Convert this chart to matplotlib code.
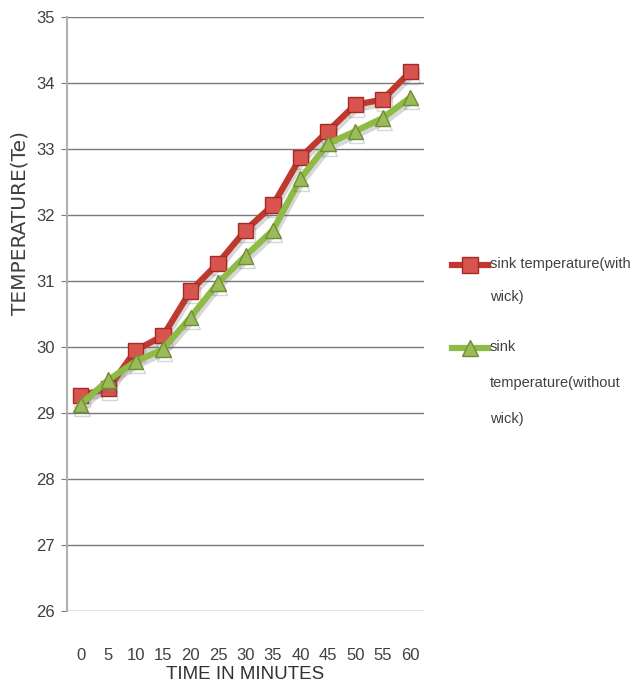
import matplotlib
matplotlib.use("Agg")
import matplotlib.pyplot as plt
import matplotlib.patheffects as pe
from matplotlib.lines import Line2D
import numpy as np

# Sink temperature readings over time
time_min = [0, 5, 10, 15, 20, 25, 30, 35, 40, 45, 50, 55, 60]
with_wick = [29.27, 29.37, 29.95, 30.17, 30.85, 31.27, 31.77, 32.15, 32.87, 33.27, 33.67, 33.75, 34.17]
without_wick = [29.13, 29.50, 29.78, 29.97, 30.45, 30.97, 31.38, 31.77, 32.55, 33.08, 33.27, 33.47, 33.78]

label_with = "sink temperature(with\nwick)"
label_without = "sink\ntemperature(without\nwick)"

narrow = ['Liberation Sans', 'DejaVu Sans']
red, red_face, red_edge = '#C0392F', '#D9544F', '#A52A24'
green, green_face, green_edge = '#8DBB45', '#9BBB59', '#6E8E35'

fig = plt.figure(figsize=(6.43, 6.97), dpi=100)
ax = fig.add_axes([67 / 643, 1 - 611 / 697, (424 - 67) / 643, (611 - 17) / 697])

# category-style x axis: each time step centred in its own slot
xpos = np.arange(len(time_min))
shadow = [pe.SimpleLineShadow(offset=(1, -3), shadow_color='#606060', alpha=0.25), pe.Normal()]

ax.plot(xpos, with_wick, color=red, lw=4.5, marker='s', ms=11,
        mfc=red_face, mec=red_edge, mew=1, zorder=4, path_effects=shadow)
ax.plot(xpos, without_wick, color=green, lw=4.5, marker='^', ms=11,
        mfc=green_face, mec=green_edge, mew=1, zorder=5, path_effects=shadow)

ax.set_xlim(-0.5, len(time_min) - 0.5)
ax.set_ylim(26, 35)
ax.set_yticks(range(26, 36))
ax.set_xticks(xpos)
ax.set_xticklabels([str(t) for t in time_min])

ax.grid(axis='y', color='#7a7a7a', lw=1)
ax.set_axisbelow(True)
for s in ['top', 'right', 'bottom']:
    ax.spines[s].set_visible(False)
ax.spines['left'].set_color('#b0b0b0')
ax.spines['left'].set_linewidth(1.5)

ax.tick_params(axis='y', length=4, color='#7a7a7a', pad=5, labelsize=12, labelcolor='#404040')
ax.tick_params(axis='x', length=0, pad=27, labelsize=12, labelcolor='#404040')
for lbl in ax.get_xticklabels() + ax.get_yticklabels():
    lbl.set_family(narrow)

ax.set_xlabel('TIME IN MINUTES', family=narrow, fontsize=13.5, color='#303030', labelpad=2)
fig.text(20 / 643, 1 - 223 / 697, 'TEMPERATURE(Te)', rotation=90, ha='center', va='center',
         fontsize=14.5, color='#404040')

# legend drawn beside the plot area
def legend_entry(y_px, color, face, edge, marker, text, spacing):
    yf = 1 - y_px / 697
    fig.add_artist(Line2D([452 / 643, 488 / 643], [yf, yf], color=color, lw=4.5,
                          transform=fig.transFigure))
    fig.add_artist(Line2D([470 / 643], [yf], marker=marker, ms=11, mfc=face, mec=edge,
                          mew=1, transform=fig.transFigure))
    fig.text(490 / 643, yf + 8 / 697, text, ha='left', va='top', family=narrow, fontsize=10.5,
             color='#404040', linespacing=spacing, transform=fig.transFigure)

legend_entry(265, red, red_face, red_edge, 's', label_with, 2.7)
legend_entry(348, green, green_face, green_edge, '^', label_without, 3.0)

fig.savefig('out.png', dpi=100)
